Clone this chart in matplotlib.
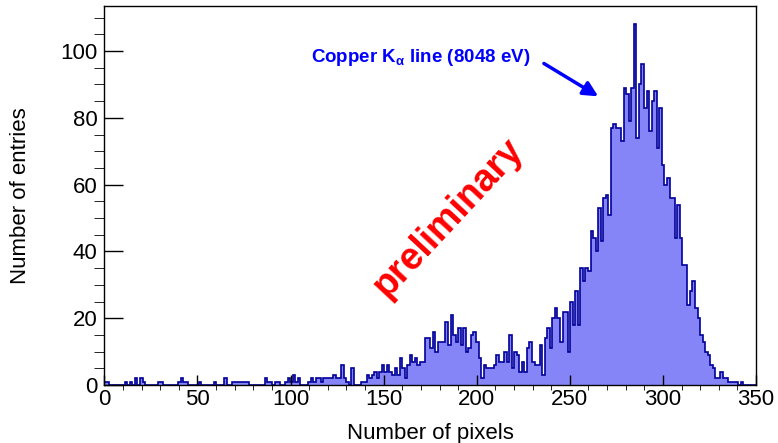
import matplotlib.pyplot as plt
import numpy as np

plt.rcParams['font.family'] = ['Liberation Sans', 'DejaVu Sans']

# histogram range and bin contents (256 bins)
x_lo, x_hi = 0, 350
counts = [
    1, 1, 0, 0, 0, 0, 0, 0, 1, 0,
    1, 0, 2, 0, 2, 1, 0, 0, 0, 0,
    0, 1, 1, 0, 0, 0, 0, 0, 0, 1,
    2, 1, 1, 0, 0, 0, 0, 1, 0, 0,
    0, 0, 0, 1, 0, 0, 0, 2, 0, 0,
    1, 1, 1, 1, 1, 1, 1, 0, 0, 0,
    0, 0, 0, 2, 1, 1, 0, 1, 1, 0,
    0, 1, 2, 1, 3, 1, 2, 0, 0, 0,
    1, 2, 1, 2, 2, 1, 2, 2, 2, 2,
    3, 2, 2, 6, 2, 1, 0, 5, 0, 0,
    0, 1, 1, 3, 2, 3, 4, 2, 4, 6,
    4, 6, 4, 3, 5, 3, 8, 5, 2, 6,
    9, 7, 8, 6, 7, 7, 14, 14, 11, 16,
    10, 13, 13, 13, 19, 12, 21, 15, 13, 17,
    12, 17, 10, 11, 15, 16, 13, 8, 2, 6,
    5, 5, 5, 6, 9, 7, 7, 10, 7, 15,
    5, 10, 9, 4, 7, 4, 11, 13, 7, 6,
    6, 12, 3, 14, 17, 11, 20, 23, 20, 13,
    22, 22, 10, 25, 18, 28, 18, 35, 31, 35,
    34, 46, 44, 40, 53, 43, 56, 57, 51, 77,
    78, 77, 77, 73, 89, 87, 79, 89, 108, 74,
    90, 96, 83, 88, 76, 85, 88, 71, 83, 66,
    60, 62, 56, 56, 44, 54, 44, 36, 36, 24,
    28, 31, 23, 20, 15, 13, 10, 9, 6, 5,
    2, 2, 4, 2, 2, 1, 1, 1, 1, 0,
    1, 0, 0, 0, 0, 0,
]
edges = np.linspace(x_lo, x_hi, len(counts) + 1)

line_label = r'Copper K$_{\mathregular{\alpha}}$ line (8048 eV)'
line_tip = (266.5, 86)
line_tail = (234.8, 96.7)

fig = plt.figure(figsize=(7.78, 4.43), dpi=100)
ax = fig.add_axes([0.1341, 0.1309, 0.8377, 0.855])

ax.stairs(counts, edges, fill=True, facecolor='#8585f8', edgecolor='none')
ax.stairs(counts, edges, color='#000099', lw=1.2)

ax.set_xlim(x_lo, x_hi)
ax.set_ylim(0, max(counts) * 1.05)
ax.set_xticks(range(0, 351, 50))
ax.set_xticks(range(0, 351, 10), minor=True)
ax.set_yticks(range(0, 101, 20))
ax.set_yticks(range(0, 111, 5), minor=True)
ax.tick_params(direction='in', top=False, right=False, labelsize=16, width=1)
ax.tick_params(axis='y', which='major', length=14, pad=5)
ax.tick_params(axis='y', which='minor', length=7)
ax.tick_params(axis='x', which='major', length=7, pad=3)
ax.tick_params(axis='x', which='minor', length=3.5)
for s in ax.spines.values():
    s.set_linewidth(1.0)

ax.set_xlabel('Number of pixels', fontsize=16, labelpad=9)
ax.set_ylabel('Number of entries', fontsize=16, labelpad=21)

ax.annotate('', xy=line_tip, xytext=line_tail,
            arrowprops=dict(arrowstyle='-|>', color='blue', lw=2.5, mutation_scale=22))
ax.text(229, 98.2, line_label, color='blue', fontsize=13.5, fontweight='bold',
        ha='right', va='center')

ax.text(184.5, 50, 'preliminary', color='red', fontsize=27, fontweight='bold',
        rotation=47, ha='center', va='center', rotation_mode='anchor')

fig.savefig('out.png', dpi=100)
